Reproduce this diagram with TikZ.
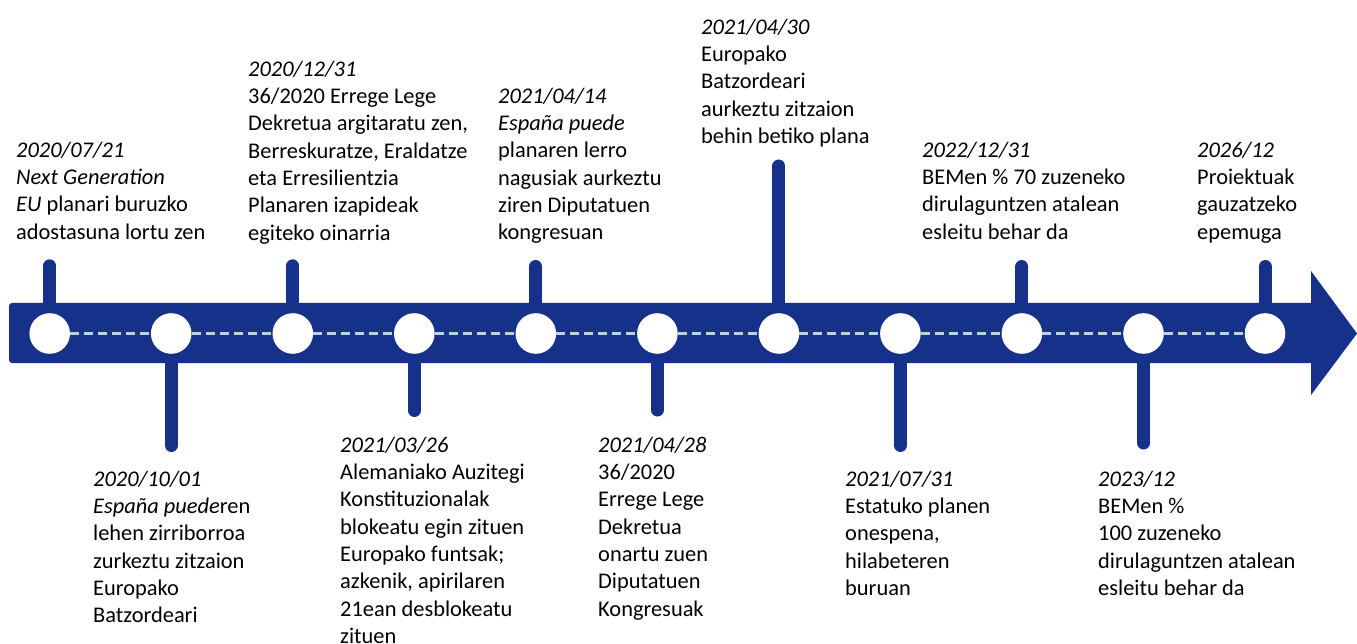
\documentclass[tikz,border=0pt]{standalone}
\usepackage{fontspec}
\setmainfont{Carlito}
\definecolor{barblue}{RGB}{21,49,137}
\definecolor{dashblue}{RGB}{190,207,234}
\newcommand{\when}[1]{\textit{#1}\strut}

\begin{document}
\begin{tikzpicture}[x=1pt, y=-1pt,
    dot/.style={circle, fill=white, minimum size=40.6pt, inner sep=0pt},
    stem/.style={draw=barblue, line width=13pt, line cap=round, shorten >=8pt},
    dashes/.style={draw=dashblue, line width=2.5pt, dash pattern=on 9pt off 5pt},
    event/.style={anchor=north west, inner sep=0pt, align=left, font=\fontsize{22.4}{27.3}\selectfont}
]
    \useasboundingbox (0,0) rectangle (1357,644);

    % arrow
    \fill[barblue] (1311,303) [rounded corners=3pt] -- (9,303) -- (9,363) [sharp corners] -- (1311,363)
        -- (1311,395) -- (1357,333.5) -- (1311,271) -- cycle;

    \node[dot] (c1) at (49.7,333.5) {};
    \node[dot] (c2) at (171.2,333.5) {};
    \node[dot] (c3) at (292.8,333.5) {};
    \node[dot] (c4) at (414.3,333.5) {};
    \node[dot] (c5) at (535.8,333.5) {};
    \node[dot] (c6) at (657.4,333.5) {};
    \node[dot] (c7) at (778.9,333.5) {};
    \node[dot] (c8) at (900.4,333.5) {};
    \node[dot] (c9) at (1021.9,333.5) {};
    \node[dot] (c10) at (1143.5,333.5) {};
    \node[dot] (c11) at (1265,333.5) {};

    \foreach \a/\b in {1/2,2/3,3/4,4/5,5/6,6/7,7/8,8/9,9/10,10/11}
        \draw[dashes] (c\a) -- (c\b);

    % stems
    \coordinate (e1) at (49.7,265.8);
    \coordinate (e2) at (171.2,445.5);
    \coordinate (e3) at (292.8,265.8);
    \coordinate (e4) at (414.3,410.5);
    \coordinate (e5) at (535.8,266.5);
    \coordinate (e6) at (657.4,410);
    \coordinate (e7) at (778.9,166);
    \coordinate (e8) at (900.4,445.5);
    \coordinate (e9) at (1021.9,266.5);
    \coordinate (e10) at (1143.5,443);
    \coordinate (e11) at (1265,266.5);
    \foreach \i in {1,...,11}
        \draw[stem] (e\i) -- (c\i);

    % events above
    \node[event] (t1) at (16,138) {\when{2020/07/21}\\\textit{Next Generation}\\\textit{EU} planari buruzko\\adostasuna lortu zen};
    \node[event] (t3) at (248,57) {\when{2020/12/31}\\36/2020 Errege Lege\\Dekretua argitaratu zen,\\Berreskuratze, Eraldatze\\eta Erresilientzia\\Planaren izapideak\\egiteko oinarria};
    \node[event] (t5) at (498,84) {\when{2021/04/14}\\\textit{España puede}\\planaren lerro\\nagusiak aurkeztu\\ziren Diputatuen\\kongresuan};
    \node[event] (t7) at (701,15) {\when{2021/04/30}\\Europako\\Batzordeari\\aurkeztu zitzaion\\behin betiko plana};
    \node[event] (t9) at (922,138) {\when{2022/12/31}\\BEMen \% 70 zuzeneko\\dirulaguntzen atalean\\esleitu behar da};
    \node[event] (t11) at (1197,138) {\when{2026/12}\\Proiektuak\\gauzatzeko\\epemuga};

    % events below
    \node[event] (t2) at (93,467) {\when{2020/10/01}\\\textit{España puede}ren\\lehen zirriborroa\\zurkeztu zitzaion\\Europako\\Batzordeari};
    \node[event] (t4) at (340,433) {\when{2021/03/26}\\Alemaniako Auzitegi\\Konstituzionalak\\blokeatu egin zituen\\Europako funtsak;\\azkenik, apirilaren\\21ean desblokeatu\\zituen};
    \node[event] (t6) at (598,433) {\when{2021/04/28}\\36/2020\\Errege Lege\\Dekretua\\onartu zuen\\Diputatuen\\Kongresuak};
    \node[event] (t8) at (845,467) {\when{2021/07/31}\\Estatuko planen\\onespena,\\hilabeteren\\buruan};
    \node[event] (t10) at (1098,467) {\when{2023/12}\\BEMen \%\\100 zuzeneko\\dirulaguntzen atalean\\esleitu behar da};
\end{tikzpicture}
\end{document}
